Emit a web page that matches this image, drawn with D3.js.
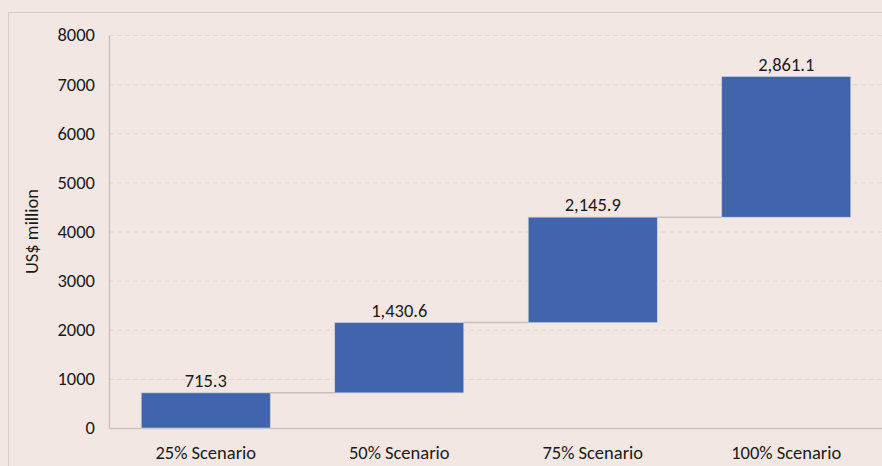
<!DOCTYPE html>
<html>
<head>
<meta charset="utf-8">
<script src="https://cdn.jsdelivr.net/npm/d3@7"></script>
<style>
  body { margin: 0; background: #f2e7e3; }
  svg { display: block; }
  text { font-family: Carlito, Lato, "Open Sans", sans-serif; fill: #1a1a1a; }
</style>
</head>
<body>
<svg id="chart"></svg>
<script>
const categories = ['25% Scenario', '50% Scenario', '75% Scenario', '100% Scenario'];
const increments = [715.3, 1430.6, 2145.9, 2861.1];
const labels = ['715.3', '1,430.6', '2,145.9', '2,861.1'];
const yticks = [0, 1000, 2000, 3000, 4000, 5000, 6000, 7000, 8000];

const width = 882, height = 466;
const margin = {top: 35, right: -1, bottom: 38, left: 109};
const fontSize = '18.5px';

const svg = d3.select('#chart')
    .attr('width', width)
    .attr('height', height);

svg.append('rect')
    .attr('x', 8.5).attr('y', 12.5)
    .attr('width', 900).attr('height', 500)
    .attr('fill', '#f2e7e3')
    .attr('stroke', '#d6cdca');

// running totals
let total = 0;
const data = categories.map((c, i) => {
    const start = total;
    total += increments[i];
    return {cat: c, start: start, end: total, label: labels[i]};
});

const xscale = d3.scaleBand()
    .domain(categories)
    .range([margin.left, width - margin.right])
    .paddingInner(1 / 3)
    .paddingOuter(1 / 6);

const yscale = d3.scaleLinear()
    .domain([0, 8000])
    .range([height - margin.bottom, margin.top]);

// gridlines
svg.append('g')
    .selectAll('line')
    .data(yticks.filter(d => d > 0))
    .join('line')
    .attr('x1', margin.left)
    .attr('x2', width)
    .attr('y1', d => yscale(d) + 0.5)
    .attr('y2', d => yscale(d) + 0.5)
    .attr('stroke', '#e2d7d4')
    .attr('stroke-width', 1)
    .attr('stroke-dasharray', '5,3');

// y axis
const yaxis = d3.axisLeft(yscale)
    .tickValues(yticks)
    .tickSize(0)
    .tickPadding(14)
    .tickFormat(d3.format('d'));

const yg = svg.append('g')
    .attr('transform', `translate(${margin.left},0)`)
    .call(yaxis);
yg.select('.domain').attr('stroke', '#cbc2bf').attr('stroke-width', 1.5);
yg.selectAll('text').style('font-size', fontSize).attr('fill', '#1a1a1a');

// x axis
const xaxis = d3.axisBottom(xscale)
    .tickSize(0)
    .tickPadding(18);

const xg = svg.append('g')
    .attr('transform', `translate(0,${yscale(0)})`)
    .call(xaxis);
xg.select('.domain').attr('stroke', '#cbc2bf').attr('stroke-width', 1.5);
xg.selectAll('text').style('font-size', fontSize).attr('fill', '#1a1a1a');

// connectors
svg.append('g')
    .selectAll('line')
    .data(data.slice(0, -1))
    .join('line')
    .attr('x1', d => xscale(d.cat) + xscale.bandwidth())
    .attr('x2', (d, i) => xscale(categories[i + 1]))
    .attr('y1', d => yscale(d.end))
    .attr('y2', d => yscale(d.end))
    .attr('stroke', '#c9c0bd')
    .attr('stroke-width', 1.5);

// bars
svg.append('g')
    .selectAll('rect')
    .data(data)
    .join('rect')
    .attr('x', d => xscale(d.cat))
    .attr('y', d => yscale(d.end))
    .attr('width', xscale.bandwidth())
    .attr('height', d => yscale(d.start) - yscale(d.end))
    .attr('fill', '#4065ac')
    .attr('stroke', '#c9ccd8')
    .attr('stroke-width', 0.6);

// value labels
svg.append('g')
    .selectAll('text')
    .data(data)
    .join('text')
    .attr('x', d => xscale(d.cat) + xscale.bandwidth() / 2)
    .attr('y', d => yscale(d.end) - 6)
    .attr('text-anchor', 'middle')
    .style('font-size', fontSize)
    .text(d => d.label);

// y title
svg.append('text')
    .attr('transform', 'rotate(-90)')
    .attr('x', -(yscale(4000)))
    .attr('y', 38)
    .attr('text-anchor', 'middle')
    .style('font-size', fontSize)
    .text('US$ million');
</script>
</body>
</html>
